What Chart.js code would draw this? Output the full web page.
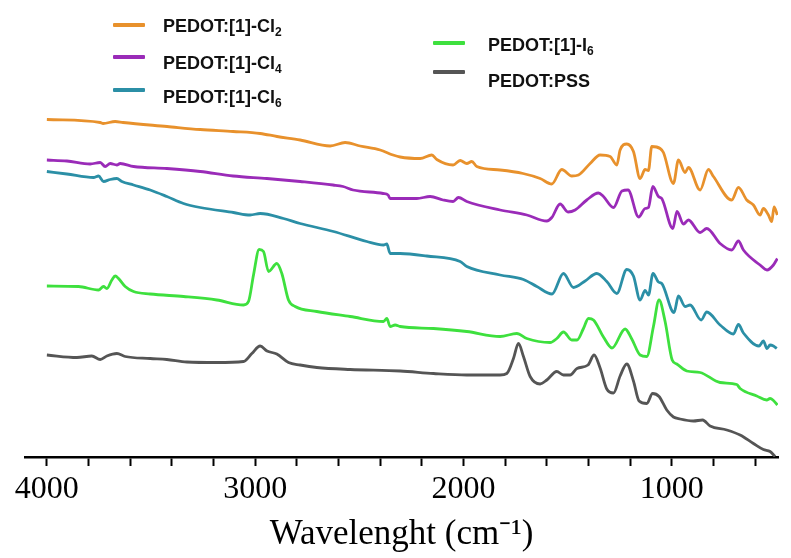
<!DOCTYPE html>
<html>
<head>
<meta charset="utf-8">
<script src="https://cdn.jsdelivr.net/npm/chart.js@4/dist/chart.umd.min.js"></script>
<style>
  html, body { margin: 0; padding: 0; background: #fff; }
  #wrap { position: relative; width: 791px; height: 558px; }
  #ftir { position: absolute; left: 0; top: 0; }
  .key { position: absolute; font: bold 18px "Liberation Sans", Arial, sans-serif; line-height: 18px; color: #111; white-space: nowrap; }
  .key .sub { font-size: 12px; position: relative; top: 4px; }
  .swatch { position: absolute; height: 3.5px; width: 32px; border-radius: 1px; }
</style>
</head>
<body>
<div id="wrap">
  <canvas id="ftir" width="791" height="558"></canvas>
</div>
<script>
// FTIR spectra (wavenumber in cm-1, transmittance in arbitrary offset units)
const seriesNames = ['PEDOT:[1]-Cl₂', 'PEDOT:[1]-Cl₄', 'PEDOT:[1]-Cl₆', 'PEDOT:[1]-I₆', 'PEDOT:PSS'];
const seriesColors = ['#e8912c', '#9a2bb8', '#2b8fa6', '#3ee03e', '#555555'];

const cl2Wn = [4000,3744,3730,3672,3634,3423,3264,3106,2976,2895,2784,2640,2568,2496,2400,2338,2304,2208,2152,2128,2050,2016,1984,1960,1936,1824,1714,1632,1576,1528,1480,1448,1392,1344,1296,1264,1248,1216,1184,1152,1128,1112,1096,1056,1040,992,968,936,920,864,824,800,712,680,640,608,576,560,536,520,509,493];
const cl2T  = [67.5,66.9,66.7,67.1,66.9,66.1,65.5,65.1,64.7,64.1,63.4,62.2,62.9,62.2,61.4,60.4,60.0,59.7,60.4,59.5,58.4,59.3,58.7,59.1,58.1,57.4,56.7,55.7,54.6,57.5,56.2,56.4,58.7,60.4,60.1,58.4,61.4,62.6,61.1,55.7,57.5,57.3,62.1,61.7,60.9,54.7,59.4,56.9,57.9,53.4,57.5,56.1,51.4,53.9,51.4,50.4,48.4,49.7,48.4,47.1,50.0,48.4];

const cl4Wn = [4000,3904,3792,3744,3720,3696,3664,3648,3584,3424,3264,3106,2944,2784,2626,2578,2530,2386,2362,2352,2304,2224,2160,2098,2050,2024,1984,1824,1696,1600,1576,1536,1498,1464,1408,1352,1328,1280,1239,1210,1159,1128,1112,1091,1064,1048,995,975,944,920,864,832,768,712,680,656,576,543,512,493];
const cl4T  = [59.4,59.2,58.6,58.9,58.1,58.7,58.4,58.7,58.1,57.7,57.1,56.2,55.7,55.1,54.4,54.1,53.4,52.7,52.4,51.7,51.7,51.7,52.1,51.4,51.1,51.9,51.1,49.4,48.4,47.2,47.9,50.6,49.0,49.4,51.4,52.8,52.1,49.9,53.2,53.4,48.0,49.7,49.9,54.1,52.1,51.7,45.7,49.1,46.6,47.4,44.9,45.7,42.7,41.4,43.2,41.4,38.4,37.4,38.4,39.7];

const cl6Wn = [4000,3904,3776,3752,3728,3696,3664,3640,3584,3504,3424,3344,3264,3104,3024,2976,2864,2784,2624,2464,2384,2368,2352,2304,2176,2016,1984,1824,1712,1648,1575,1520,1472,1416,1360,1312,1264,1216,1184,1152,1128,1112,1090,1064,1048,989,968,936,912,859,832,768,704,680,656,581,560,543,528,512,496];
const cl6T  = [57.1,56.6,55.9,56.2,55.1,55.5,55.7,55.1,54.4,53.4,52.1,50.7,49.9,48.9,48.4,48.7,47.7,46.7,45.1,43.1,42.4,42.6,40.7,40.7,40.2,39.1,38.1,36.4,35.5,34.1,32.6,36.7,33.9,35.2,36.7,35.1,32.7,37.5,36.2,31.4,33.3,32.4,36.7,35.0,34.7,28.9,32.2,30.1,30.4,27.4,29.0,26.4,24.6,26.5,24.8,22.2,23.2,21.7,22.4,22.2,21.7];

const i6Wn = [4000,3848,3752,3728,3712,3688,3672,3656,3624,3584,3504,3344,3184,3056,3032,3008,2981,2960,2936,2896,2872,2840,2808,2704,2544,2384,2368,2352,2328,2304,2144,1984,1824,1744,1696,1584,1552,1520,1480,1455,1424,1400,1376,1328,1287,1224,1192,1152,1120,1088,1061,1032,998,976,928,864,768,688,672,592,544,528,512,493];
const i6T  = [34.2,34.1,33.4,34.1,33.7,35.4,36.2,35.7,34.1,33.1,32.6,32.1,31.4,30.4,31.1,36.4,41.5,41.1,37.1,38.7,36.7,31.4,30.1,29.1,28.1,27.1,27.7,26.1,26.4,26.1,25.7,25.1,24.1,24.7,23.7,22.9,23.7,25.0,23.4,23.4,25.7,27.7,27.4,24.0,21.8,25.6,23.6,20.4,20.1,26.1,31.4,27.1,19.4,18.6,17.2,16.9,14.9,14.5,13.7,12.2,11.4,11.7,11.3,10.4];

const pssWn = [4000,3856,3784,3744,3712,3664,3624,3504,3424,3328,3184,3056,3016,2976,2943,2896,2840,2784,2704,2544,2304,2144,1984,1824,1792,1760,1736,1712,1680,1632,1600,1552,1520,1488,1455,1402,1373,1344,1312,1280,1248,1216,1184,1157,1120,1092,1061,1024,992,960,896,852,816,736,672,608,560,528,504];
const pssT  = [20.4,19.9,20.2,19.5,20.2,20.7,20.1,19.7,19.5,19.0,18.9,19.1,20.7,22.2,21.2,20.6,18.9,18.4,17.9,17.5,17.2,16.7,16.4,16.4,16.7,19.7,22.7,20.1,16.1,14.6,15.4,17.1,16.4,16.4,17.7,18.4,20.4,17.8,13.6,12.8,16.2,18.6,15.2,11.2,10.7,12.7,12.1,9.4,8.0,7.6,7.2,7.4,6.2,5.4,4.4,2.7,1.5,1.1,0.1];

// Axis ticks: labelled every 1000 cm-1, minor marks every 200 cm-1
const majorTicks = [4000, 3000, 2000, 1000];
const tickMarks = [4000,3800,3600,3400,3200,3000,2800,2600,2400,2200,2000,1800,1600,1400,1200,1000,800,600];

const spectra = [[cl2Wn, cl2T], [cl4Wn, cl4T], [cl6Wn, cl6T], [i6Wn, i6T], [pssWn, pssT]];

const datasets = spectra.map(([wn, t], i) => ({
  label: seriesNames[i],
  data: wn.map((w, k) => ({ x: w, y: t[k] })),
  borderColor: seriesColors[i],
  backgroundColor: seriesColors[i],
  borderWidth: 2.8,
  pointRadius: 0,
  cubicInterpolationMode: 'monotone',
  fill: false
}));

// Two-column key, built from the series names and colours
const keyLayout = [
  { col: 0, top: 16.5, line: 25 },
  { col: 0, top: 54, line: 57 },
  { col: 0, top: 87.5, line: 90 },
  { col: 1, top: 35.5, line: 43 },
  { col: 1, top: 72, line: 72 }
];
const keyCols = [{ line: 113, text: 163 }, { line: 433, text: 488 }];
const wrap = document.getElementById('wrap');
seriesNames.forEach((name, i) => {
  const pos = keyLayout[i];
  const col = keyCols[pos.col];
  const sw = document.createElement('div');
  sw.className = 'swatch';
  sw.style.left = col.line + 'px';
  sw.style.top = (pos.line - 1.75) + 'px';
  sw.style.background = seriesColors[i];
  wrap.appendChild(sw);
  const txt = document.createElement('div');
  txt.className = 'key';
  txt.style.left = col.text + 'px';
  txt.style.top = pos.top + 'px';
  const m = name.match(/^(.*?)([₀-₉]+)$/);
  if (m) {
    const digits = m[2].replace(/[₀-₉]/g, c => String(c.charCodeAt(0) - 0x2080));
    txt.innerHTML = m[1] + '<span class="sub">' + digits + '</span>';
  } else {
    txt.textContent = name;
  }
  wrap.appendChild(txt);
});

new Chart(document.getElementById('ftir'), {
  type: 'line',
  data: { datasets },
  options: {
    responsive: false,
    animation: false,
    layout: { padding: { left: 25, right: 13, top: 0, bottom: 0 } },
    plugins: { legend: { display: false }, tooltip: { enabled: false } },
    scales: {
      x: {
        type: 'linear',
        reverse: true,
        min: 490,
        max: 4105,
        afterBuildTicks: s => { s.ticks = tickMarks.map(v => ({ value: v })); },
        afterFit: s => { s.height = 101; },
        border: { display: true, color: '#000', width: 2.5 },
        grid: { display: true, drawOnChartArea: false, drawTicks: true, tickLength: 9, tickWidth: 2, tickColor: '#000', color: '#000' },
        ticks: {
          autoSkip: false,
          maxRotation: 0,
          padding: 4,
          color: '#000',
          font: { family: '"Liberation Serif", "Times New Roman", serif', size: 32 },
          callback: v => (majorTicks.includes(v) ? String(v) : '')
        },
        title: {
          display: true,
          text: 'Wavelenght (cm⁻¹)',
          color: '#000',
          padding: { top: 0, bottom: 2 },
          font: { family: '"Liberation Serif", "Times New Roman", serif', size: 35 }
        }
      },
      y: {
        display: false,
        min: 0,
        max: 91.4
      }
    }
  }
});
</script>
</body>
</html>
